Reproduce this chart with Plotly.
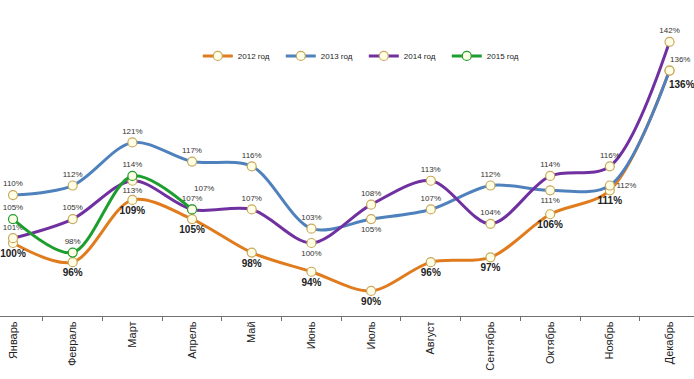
import plotly.graph_objects as go

months = ["Январь", "Февраль", "Март", "Апрель", "Май", "Июнь", "Июль",
          "Август", "Сентябрь", "Октябрь", "Ноябрь", "Декабрь"]
y2012 = [100, 96, 109, 105, 98, 94, 90, 96, 97, 106, 111, 136]
y2013 = [110, 112, 121, 117, 116, 103, 105, 107, 112, 111, 112, 136]
y2014 = [101, 105, 113, 107, 107, 100, 108, 113, 104, 114, 116, 142]
y2015 = [105, 98, 114, 107]

pos2012 = ["bottom center"] * 12
pos2013 = ["top center"] * 6 + ["bottom center", "top center", "top center",
                                "bottom center", "middle right", "top center"]
pos2014 = ["top center", "top center", "bottom center", "top center", "top center",
           "bottom center", "top center", "top center", "top center", "top center",
           "top center", "top center"]
pos2015 = ["top center", "top center", "top center", "top right"]

fill = "#FFFFE6"
tan = "#C8A860"
FONT = "Liberation Sans, Arial"

def trace(name, vals, color, edge, pos, bold=False, skip=()):
    fmt = "<b>%{text}</b>" if bold else "%{text}"
    texts = ["" if i in skip else f"{v}%" for i, v in enumerate(vals)]
    return go.Scatter(
        x=months[:len(vals)], y=vals, name=name, mode="lines+markers+text",
        line=dict(color=color, width=3, shape="spline", smoothing=0.9),
        marker=dict(size=9, color=fill, line=dict(color=edge, width=1.2)),
        text=texts, texttemplate=fmt, textposition=pos,
        textfont=dict(family=FONT, size=10 if bold else 8,
                      color="#222222" if bold else "#333333"),
        cliponaxis=False,
    )

fig = go.Figure()
fig.add_trace(trace("2012 год", y2012, "#E07B1E", tan, pos2012, bold=True, skip=(11,)))
fig.add_trace(trace("2013 год", y2013, "#4F81BD", tan, pos2013, skip=(11,)))
fig.add_trace(trace("2014 год", y2014, "#7030A0", tan, pos2014))
fig.add_trace(trace("2015 год", y2015, "#1E9E2E", "#1E9E2E", pos2015, skip=(3,)))

fig.add_annotation(x=months[3], y=y2015[3], text=f"{y2015[3]}%", showarrow=False,
                   xshift=12, yshift=21,
                   font=dict(family=FONT, size=8, color="#333333"))
fig.add_annotation(x=months[11], y=y2013[11], text=f"{y2013[11]}%", showarrow=False,
                   xshift=10, yshift=11,
                   font=dict(family=FONT, size=8, color="#333333"))
fig.add_annotation(x=months[11], y=y2012[11], text=f"<b>{y2012[11]}%</b>", showarrow=False,
                   xshift=12, yshift=-14,
                   font=dict(family=FONT, size=10, color="#222222"))

fig.update_layout(
    width=694, height=379,
    margin=dict(l=0, r=0, t=0, b=63, autoexpand=False),
    paper_bgcolor="white", plot_bgcolor="white",
    showlegend=True,
    legend=dict(orientation="h", x=0.285, y=0.823, xanchor="left", yanchor="middle",
                font=dict(family=FONT, size=8, color="#222222"),
                itemwidth=30, entrywidth=38, entrywidthmode="pixels",
                bgcolor="rgba(0,0,0,0)"),
    xaxis=dict(type="category", range=[-0.218, 11.41], tickangle=-90,
               automargin=False,
               showline=True, linecolor="#707070", linewidth=1,
               ticks="outside", ticklen=4, tickcolor="#707070", tickson="boundaries",
               showgrid=False, zeroline=False,
               tickfont=dict(family=FONT, size=11, color="#222222")),
    yaxis=dict(range=[84.76, 150.73], visible=False, showgrid=False, zeroline=False,
               automargin=False),
)

fig.write_html("out.html", config={"displayModeBar": False},
               post_script="document.body.style.margin='0';document.body.style.overflow='hidden';")
